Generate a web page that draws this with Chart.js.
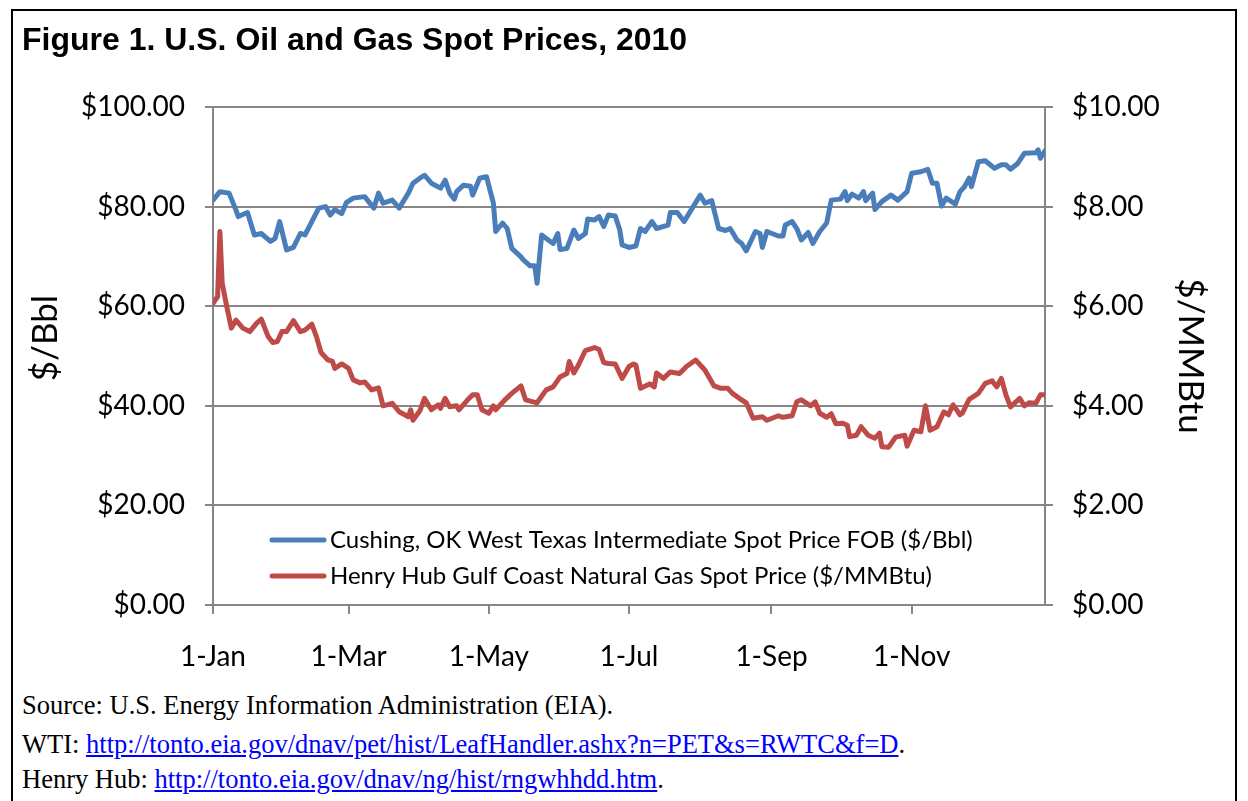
<!DOCTYPE html>
<html>
<head>
<meta charset="utf-8">
<title>Figure 1. U.S. Oil and Gas Spot Prices, 2010</title>
<script src="https://cdn.jsdelivr.net/npm/chart.js@4.4.0/dist/chart.umd.min.js"></script>
<style>
    body { margin: 0; background: #fff; width: 1248px; height: 801px; overflow: hidden; position: relative; }
    #frame { position: absolute; left: 11px; top: 9px; width: 1226px; height: 820px; border: 2px solid #000; box-sizing: border-box; }
    #title { position: absolute; left: 22px; top: 23px; font: bold 32px "Liberation Sans", Arial, sans-serif; line-height: 1; color: #000; white-space: nowrap; }
    #chart-box { position: absolute; left: 0; top: 0; width: 1248px; height: 690px; }
    .note { position: absolute; left: 22px; font: 26.5px "Liberation Serif", "Times New Roman", serif; line-height: 1; color: #000; white-space: nowrap; }
    .note a { color: #0000ff; text-decoration: underline; }
</style>
</head>
<body>
<div id="frame"></div>
<div id="chart-box"><canvas id="spot-canvas" width="1248" height="690"></canvas></div>
<div id="title">Figure 1. U.S. Oil and Gas Spot Prices, 2010</div>
<div class="note" style="top:692px;">Source: U.S. Energy Information Administration (EIA).</div>
<div class="note" style="top:731px;">WTI: <a href="#">http://tonto.eia.gov/dnav/pet/hist/LeafHandler.ashx?n=PET&amp;s=RWTC&amp;f=D</a>.</div>
<div class="note" style="top:766px;">Henry Hub: <a href="#">http://tonto.eia.gov/dnav/ng/hist/rngwhhdd.htm</a>.</div>

<script>
// day of year 2010 (0 = 1-Jan) and spot prices
const wtiDays = [0, 3, 7, 10, 11, 15, 18, 21, 25, 27, 29, 32, 35, 38, 40, 43, 46, 49, 51, 53,
    56, 58, 61, 66, 70, 72, 74, 78, 81, 85, 87, 90, 92, 95, 99, 101, 103, 105, 106, 109,
    112, 113, 116, 119, 122, 123, 126, 128, 130, 134, 135, 138, 140, 141, 143, 145, 148, 150, 151, 154,
    157, 159, 162, 163, 166, 168, 170, 172, 175, 177, 178, 181, 184, 186, 188, 191, 193, 198, 199, 202,
    205, 208, 212, 214, 217, 220, 223, 225, 228, 230, 232, 236, 238, 239, 241, 246, 248, 249, 252, 254,
    256, 259, 261, 264, 267, 269, 273, 275, 276, 278, 281, 283, 284, 287, 288, 291, 295, 298, 302, 304,
    308, 311, 313, 315, 317, 319, 323, 325, 327, 329, 330, 333, 336, 340, 343, 345, 347, 350, 353, 358,
    359, 360, 362];
const wtiPrices = [81.3, 83.0, 82.7, 79.3, 78.0, 78.8, 74.3, 74.6, 73.0, 73.6, 77.0, 71.3, 71.8, 74.6, 74.3, 77.0, 79.7, 80.0, 78.3, 79.4,
    78.6, 80.8, 81.7, 82.0, 79.7, 82.7, 80.7, 81.3, 79.7, 82.7, 84.7, 85.7, 86.3, 84.7, 83.7, 85.3, 82.7, 81.5, 83.0, 84.3,
    84.1, 82.3, 85.7, 86.0, 80.7, 75.0, 76.7, 75.6, 71.6, 69.9, 69.3, 68.1, 68.1, 64.6, 74.3, 73.6, 72.6, 74.6, 71.4, 71.6,
    75.3, 73.6, 74.6, 77.5, 77.3, 78.0, 76.0, 78.3, 78.1, 75.3, 72.3, 71.8, 72.1, 75.6, 75.0, 77.0, 75.6, 76.3, 78.8, 78.8,
    77.0, 79.3, 82.3, 80.7, 81.2, 75.6, 75.2, 75.6, 73.3, 72.6, 71.1, 75.0, 74.6, 71.8, 75.0, 74.1, 74.1, 76.3, 77.0, 75.6,
    73.3, 74.8, 72.6, 75.0, 76.7, 81.3, 81.5, 83.0, 81.2, 82.5, 81.7, 83.0, 81.2, 82.7, 79.4, 81.0, 82.3, 81.3, 83.0, 86.7,
    87.0, 87.5, 84.7, 84.7, 80.1, 81.7, 80.5, 83.0, 84.0, 85.7, 84.0, 89.0, 89.2, 87.7, 88.4, 88.4, 87.5, 88.6, 90.7, 90.8,
    91.4, 89.7, 91.2];

const gasDays = [0, 2, 3, 4, 6, 8, 10, 13, 16, 19, 21, 24, 26, 28, 30, 32, 35, 38, 40, 43,
    45, 47, 50, 52, 53, 56, 59, 61, 64, 66, 69, 72, 74, 78, 81, 85, 86, 87, 90, 92,
    95, 98, 99, 101, 103, 106, 107, 111, 113, 115, 117, 120, 122, 123, 127, 130, 134, 136, 141, 145,
    148, 151, 154, 155, 157, 159, 162, 166, 168, 170, 172, 175, 178, 181, 183, 184, 186, 190, 192, 193,
    196, 199, 203, 206, 210, 212, 214, 218, 221, 224, 226, 229, 232, 235, 239, 241, 246, 248, 252, 254,
    256, 260, 262, 264, 267, 269, 271, 274, 276, 277, 280, 282, 285, 288, 290, 291, 294, 297, 301, 302,
    305, 308, 310, 312, 315, 318, 320, 322, 325, 326, 329, 333, 336, 339, 341, 343, 345, 347, 351, 353,
    355, 358, 360, 362];
const gasPrices = [6.06, 6.19, 7.50, 6.46, 5.99, 5.56, 5.72, 5.56, 5.49, 5.66, 5.74, 5.39, 5.27, 5.29, 5.49, 5.49, 5.71, 5.49, 5.52, 5.64,
    5.39, 5.07, 4.92, 4.89, 4.75, 4.84, 4.75, 4.52, 4.46, 4.48, 4.32, 4.36, 4.00, 4.05, 3.88, 3.78, 3.92, 3.71, 3.90, 4.15,
    3.92, 4.02, 3.95, 4.15, 3.98, 4.00, 3.92, 4.13, 4.22, 4.22, 3.92, 3.85, 4.00, 3.92, 4.12, 4.25, 4.40, 4.12, 4.06, 4.32,
    4.38, 4.58, 4.65, 4.89, 4.66, 4.82, 5.11, 5.17, 5.13, 4.87, 4.85, 4.84, 4.55, 4.79, 4.84, 4.82, 4.35, 4.44, 4.38, 4.66,
    4.55, 4.68, 4.65, 4.79, 4.92, 4.82, 4.72, 4.40, 4.35, 4.35, 4.25, 4.15, 4.06, 3.75, 3.78, 3.71, 3.80, 3.77, 3.80, 4.08,
    4.12, 4.00, 4.08, 3.85, 3.77, 3.84, 3.64, 3.65, 3.61, 3.38, 3.41, 3.58, 3.41, 3.35, 3.45, 3.18, 3.17, 3.37, 3.41, 3.19,
    3.51, 3.48, 4.00, 3.51, 3.58, 3.88, 3.82, 4.02, 3.82, 3.85, 4.13, 4.25, 4.45, 4.50, 4.38, 4.55, 4.22, 3.98, 4.15, 4.00,
    4.06, 4.05, 4.22, 4.22];

// x axis tick positions (days) and their labels
const monthTicks = [0, 59, 120, 181, 243, 304];
const monthLabels = ["1-Jan", "1-Mar", "1-May", "1-Jul", "1-Sep", "1-Nov"];

const seriesNames = [
    "Cushing, OK West Texas Intermediate Spot Price FOB ($/Bbl)",
    "Henry Hub Gulf Coast Natural Gas Spot Price ($/MMBtu)"
];

const BLUE = "#4a7ebb";
const RED = "#be4b48";
const GRID = "#868686";

function toPoints(days, values) {
    return days.map(function (d, i) { return { x: d, y: values[i] }; });
}

// legend drawn inside the plot, like the Excel original
const insideLegend = {
    id: "insideLegend",
    afterDraw: function (chart) {
        const ctx = chart.ctx;
        const area = chart.chartArea;
        const x0 = area.left + 59;
        const rows = [area.bottom - 65, area.bottom - 29];
        ctx.save();
        ctx.font = "24px Lato";
        ctx.textBaseline = "middle";
        ctx.fillStyle = "#000";
        chart.data.datasets.forEach(function (ds, i) {
            ctx.strokeStyle = ds.borderColor;
            ctx.lineWidth = 5;
            ctx.lineCap = "round";
            ctx.beginPath();
            ctx.moveTo(x0, rows[i]);
            ctx.lineTo(x0 + 52, rows[i]);
            ctx.stroke();
            ctx.fillText(ds.label, x0 + 58, rows[i]);
        });
        ctx.restore();
    }
};

const ctx = document.getElementById("spot-canvas").getContext("2d");
const spot_chart = new Chart(ctx, {
    type: "line",
    data: {
        datasets: [
            {
                label: seriesNames[0],
                data: toPoints(wtiDays, wtiPrices),
                yAxisID: "y",
                borderColor: BLUE,
                backgroundColor: BLUE,
                borderWidth: 5,
                pointRadius: 0,
                borderJoinStyle: "round",
                borderCapStyle: "round",
                fill: false
            },
            {
                label: seriesNames[1],
                data: toPoints(gasDays, gasPrices),
                yAxisID: "y1",
                borderColor: RED,
                backgroundColor: RED,
                borderWidth: 5,
                pointRadius: 0,
                borderJoinStyle: "round",
                borderCapStyle: "round",
                fill: false
            }
        ]
    },
    options: {
        responsive: false,
        animation: false,
        layout: { padding: { top: 107, left: 0, right: 0, bottom: 0 } },
        plugins: {
            legend: { display: false },
            tooltip: { enabled: false }
        },
        scales: {
            x: {
                type: "linear",
                min: 0,
                max: 362,
                afterBuildTicks: function (scale) {
                    scale.ticks = monthTicks.map(function (v) { return { value: v }; });
                },
                afterFit: function (scale) { scale.height = 85; },
                ticks: {
                    color: "#000",
                    font: { family: "Lato", size: 28 },
                    padding: 26,
                    maxRotation: 0,
                    autoSkip: false,
                    callback: function (value) {
                        const i = monthTicks.indexOf(value);
                        return i >= 0 ? monthLabels[i] : "";
                    }
                },
                grid: { drawOnChartArea: false, color: GRID, lineWidth: 2, tickLength: 9 },
                border: { color: GRID, width: 2 }
            },
            y: {
                position: "left",
                min: 0,
                max: 100,
                afterFit: function (scale) { scale.width = 213; },
                ticks: {
                    stepSize: 20,
                    color: "#000",
                    font: { family: "Lato", size: 28 },
                    padding: 20,
                    callback: function (value) { return "$" + value.toFixed(2); }
                },
                grid: { color: GRID, lineWidth: 2, tickLength: 8 },
                border: { color: GRID, width: 2 },
                title: {
                    display: true,
                    // leading spaces nudge the label up a little, as in the original
                    text: "    $/Bbl",
                    color: "#000",
                    font: { family: "Lato", size: 35 },
                    padding: { top: 25, bottom: 0 }
                }
            },
            y1: {
                position: "right",
                min: 0,
                max: 10,
                afterFit: function (scale) { scale.width = 203; },
                ticks: {
                    stepSize: 2,
                    color: "#000",
                    font: { family: "Lato", size: 28 },
                    padding: 19,
                    callback: function (value) { return "$" + value.toFixed(2); }
                },
                grid: { drawOnChartArea: false, color: GRID, lineWidth: 2, tickLength: 8 },
                border: { color: GRID, width: 2 },
                title: {
                    display: true,
                    text: "$/MMBtu",
                    color: "#000",
                    font: { family: "Lato", size: 35 },
                    padding: { top: 37, bottom: 0 }
                }
            }
        }
    },
    plugins: [insideLegend]
});
</script>
</body>
</html>
